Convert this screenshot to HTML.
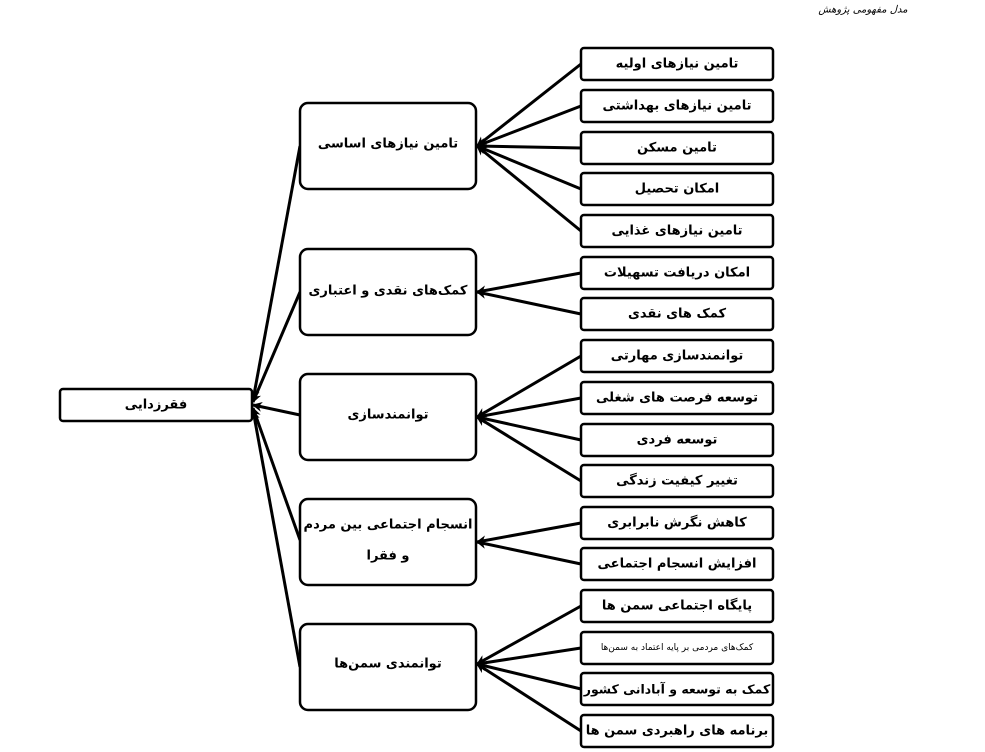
<!DOCTYPE html>
<html><head><meta charset="utf-8"><style>
html,body{margin:0;padding:0;background:#fff;}
svg{display:block;}
text{font-family:"DejaVu Sans",sans-serif;font-weight:bold;font-size:13px;fill:#000;direction:rtl;unicode-bidi:embed;text-anchor:middle;dominant-baseline:central;}
</style></head><body>
<svg width="985" height="752" viewBox="0 0 985 752" xmlns="http://www.w3.org/2000/svg">
<defs>
<marker id="a" markerWidth="10" markerHeight="10" refX="9" refY="5" orient="auto" markerUnits="userSpaceOnUse" viewBox="0 0 10 10">
<path d="M0,0 L10,5 L0,10 L3,5 z" fill="#000"/>
</marker>
</defs>
<text x="863" y="10" style="font-size:10px;font-weight:normal;font-style:italic;">مدل مفهومی پژوهش</text>
<g stroke="#000" stroke-width="3" fill="none" marker-end="url(#a)">
<line x1="581" y1="64" x2="477" y2="146"/>
<line x1="581" y1="106" x2="477" y2="146"/>
<line x1="581" y1="148" x2="477" y2="146"/>
<line x1="581" y1="189" x2="477" y2="146"/>
<line x1="581" y1="231" x2="477" y2="146"/>
<line x1="581" y1="273" x2="477" y2="292"/>
<line x1="581" y1="314" x2="477" y2="292"/>
<line x1="581" y1="356" x2="477" y2="417"/>
<line x1="581" y1="398" x2="477" y2="417"/>
<line x1="581" y1="440" x2="477" y2="417"/>
<line x1="581" y1="481" x2="477" y2="417"/>
<line x1="581" y1="523" x2="477" y2="542"/>
<line x1="581" y1="564" x2="477" y2="542"/>
<line x1="581" y1="606" x2="477" y2="664"/>
<line x1="581" y1="648" x2="477" y2="664"/>
<line x1="581" y1="689" x2="477" y2="664"/>
<line x1="581" y1="731" x2="477" y2="664"/>
<line x1="300" y1="146" x2="253" y2="400"/>
<line x1="300" y1="292" x2="253" y2="402"/>
<line x1="300" y1="415" x2="253" y2="405"/>
<line x1="300" y1="540" x2="253" y2="408"/>
<line x1="300" y1="667" x2="253" y2="410"/>
</g>
<g stroke="#000" stroke-width="2.5" fill="#fff">
<rect x="60" y="389" width="192" height="32" rx="3"/>
<rect x="300" y="103" width="176" height="86" rx="8"/>
<rect x="300" y="249" width="176" height="86" rx="8"/>
<rect x="300" y="374" width="176" height="86" rx="8"/>
<rect x="300" y="499" width="176" height="86" rx="8"/>
<rect x="300" y="624" width="176" height="86" rx="8"/>
<rect x="581" y="48" width="192" height="32" rx="3"/>
<rect x="581" y="90" width="192" height="32" rx="3"/>
<rect x="581" y="132" width="192" height="32" rx="3"/>
<rect x="581" y="173" width="192" height="32" rx="3"/>
<rect x="581" y="215" width="192" height="32" rx="3"/>
<rect x="581" y="257" width="192" height="32" rx="3"/>
<rect x="581" y="298" width="192" height="32" rx="3"/>
<rect x="581" y="340" width="192" height="32" rx="3"/>
<rect x="581" y="382" width="192" height="32" rx="3"/>
<rect x="581" y="424" width="192" height="32" rx="3"/>
<rect x="581" y="465" width="192" height="32" rx="3"/>
<rect x="581" y="507" width="192" height="32" rx="3"/>
<rect x="581" y="548" width="192" height="32" rx="3"/>
<rect x="581" y="590" width="192" height="32" rx="3"/>
<rect x="581" y="632" width="192" height="32" rx="3"/>
<rect x="581" y="673" width="192" height="32" rx="3"/>
<rect x="581" y="715" width="192" height="32" rx="3"/>
</g>
<text x="156" y="405">فقرزدایی</text>
<text x="388" y="144">تامین نیازهای اساسی</text>
<text x="388" y="291">کمک‌های نقدی و اعتباری</text>
<text x="388" y="415">توانمندسازی</text>
<text x="388" y="525">انسجام اجتماعی بین مردم</text>
<text x="388" y="556">و فقرا</text>
<text x="388" y="664">توانمندی سمن‌ها</text>
<text x="677" y="64">تامین نیازهای اولیه</text>
<text x="677" y="106">تامین نیازهای بهداشتی</text>
<text x="677" y="148">تامین مسکن</text>
<text x="677" y="189">امکان تحصیل</text>
<text x="677" y="231">تامین نیازهای غذایی</text>
<text x="677" y="273">امکان دریافت تسهیلات</text>
<text x="677" y="314">کمک های نقدی</text>
<text x="677" y="356">توانمندسازی مهارتی</text>
<text x="677" y="398">توسعه فرصت های شغلی</text>
<text x="677" y="440">توسعه فردی</text>
<text x="677" y="481">تغییر کیفیت زندگی</text>
<text x="677" y="523">کاهش نگرش نابرابری</text>
<text x="677" y="564">افزایش انسجام اجتماعی</text>
<text x="677" y="606">پایگاه اجتماعی سمن ها</text>
<text x="677" y="648" style="font-size:9px;font-weight:normal;">کمک‌های مردمی بر پایه اعتماد به سمن‌ها</text>
<text x="677" y="689" style="font-size:12.5px;">کمک به توسعه و آبادانی کشور</text>
<text x="677" y="731">برنامه های راهبردی سمن ها</text>
</svg>
</body></html>
